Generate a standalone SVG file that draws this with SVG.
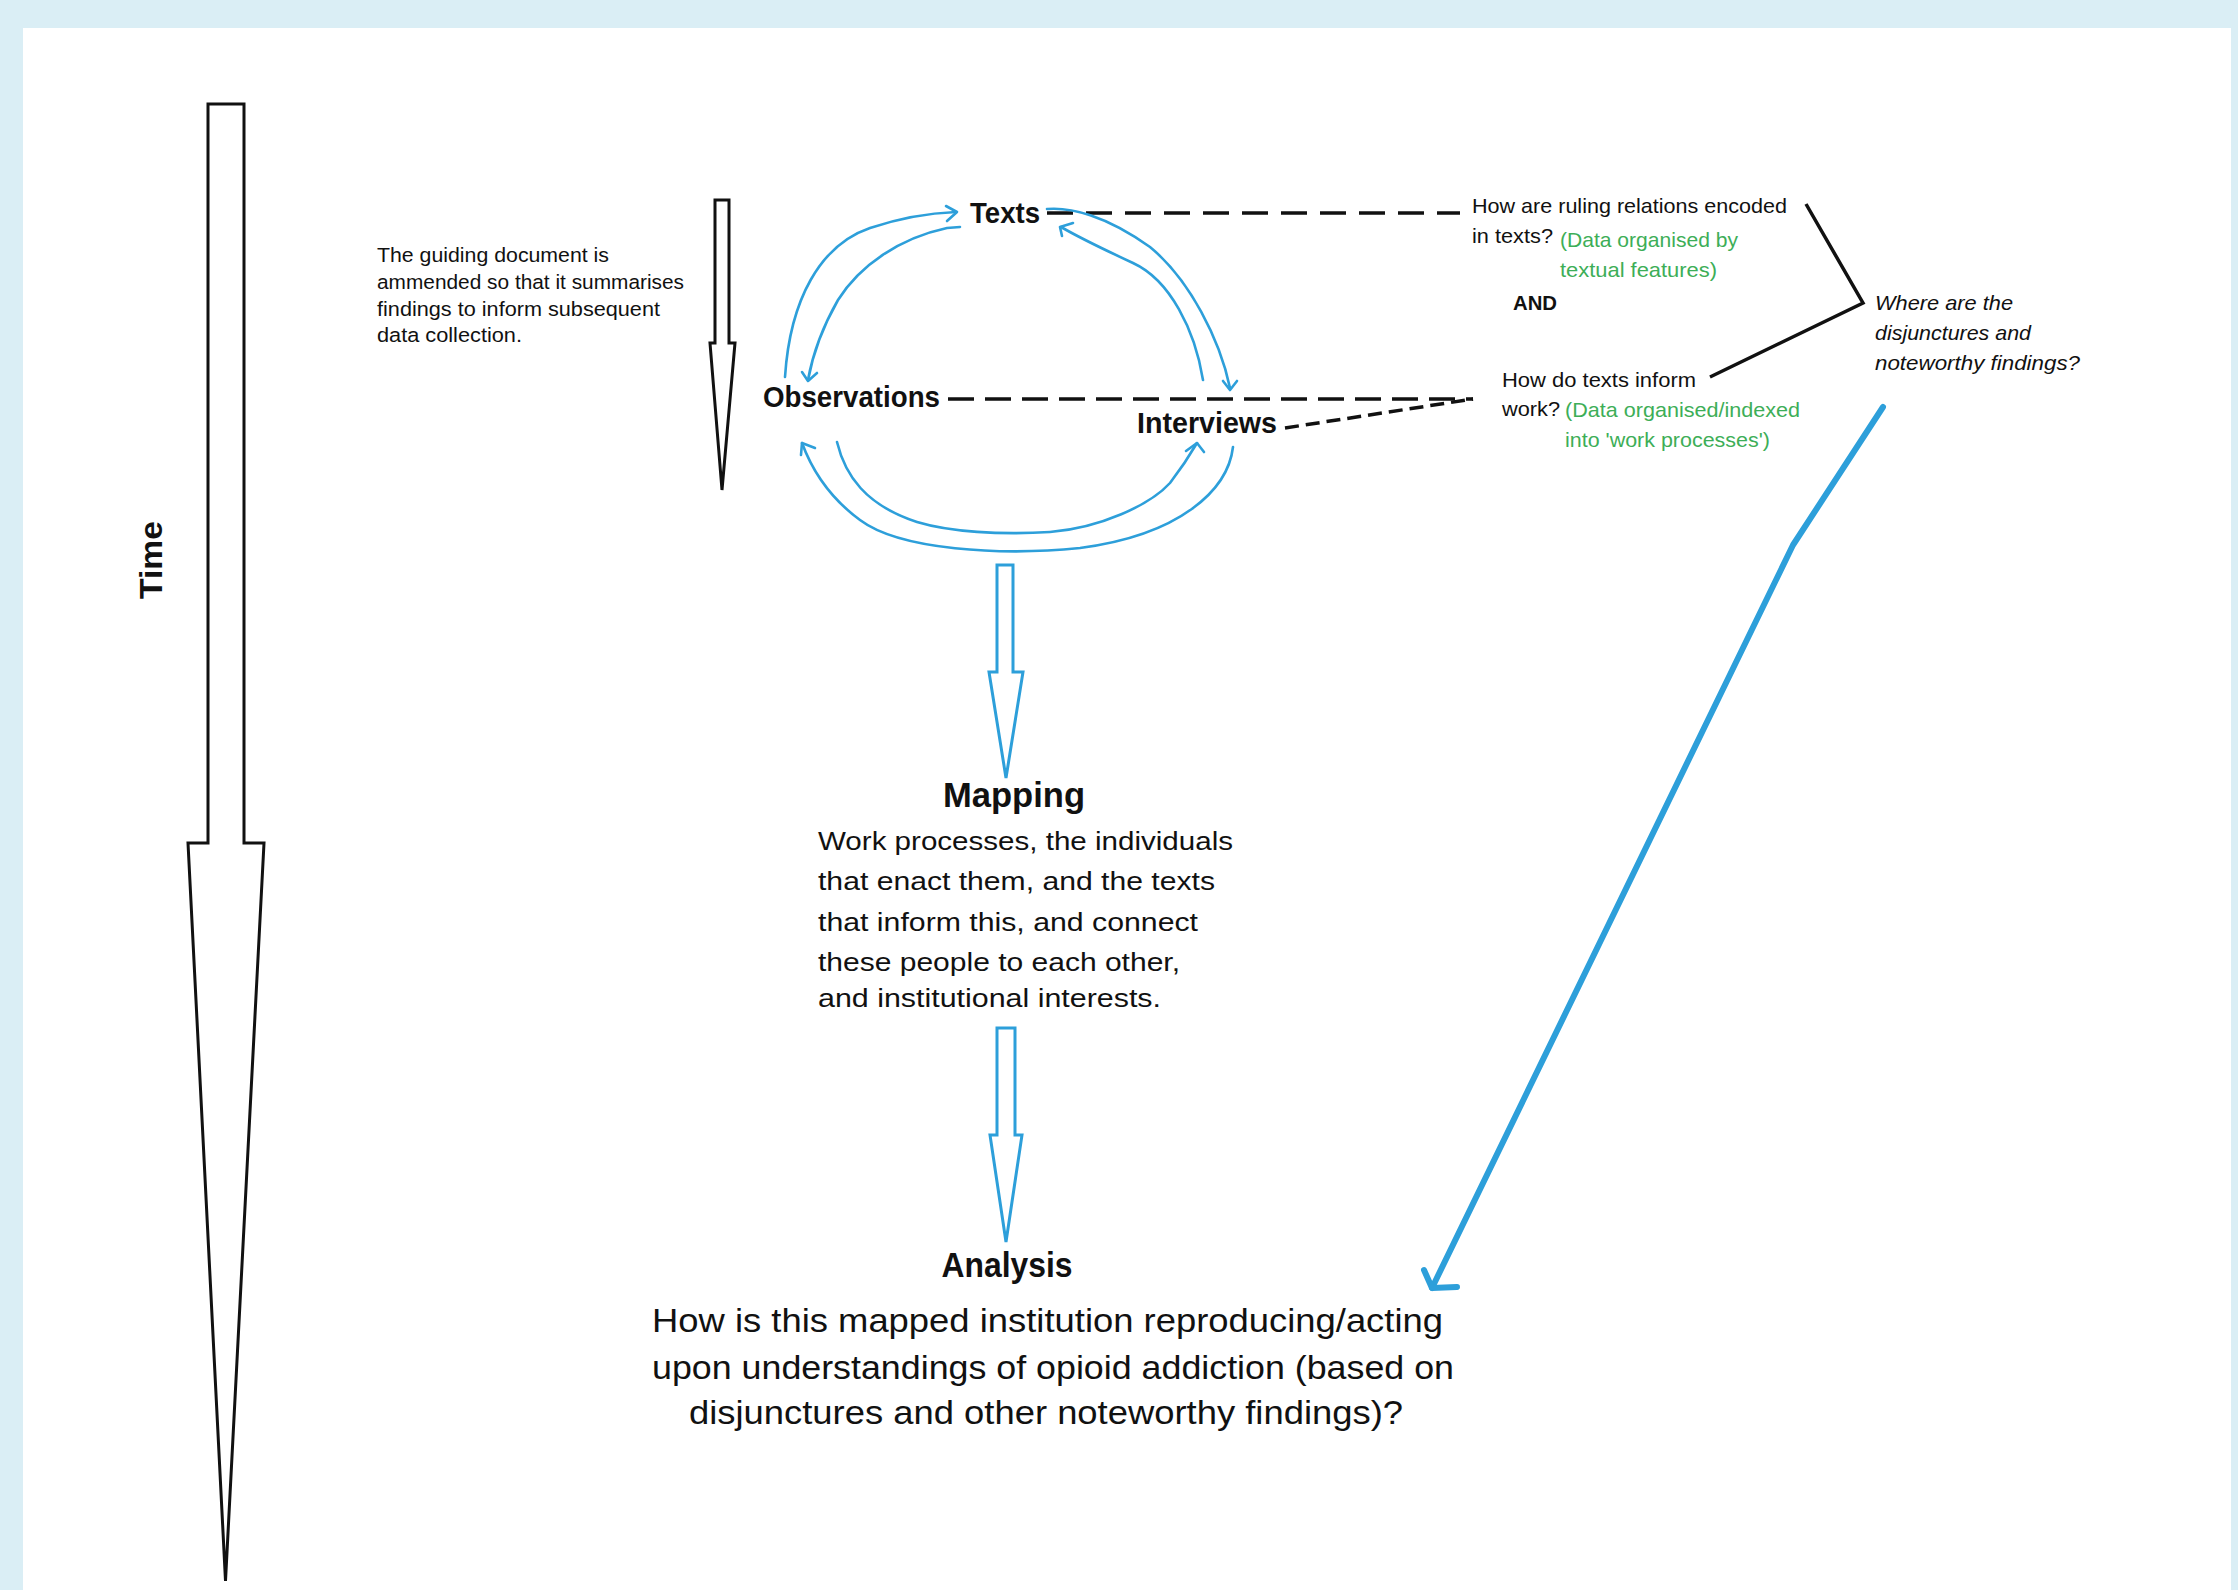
<svg xmlns="http://www.w3.org/2000/svg" width="2238" height="1590" viewBox="0 0 2238 1590">
<defs>
<style>
.t{font-family:"Liberation Sans",Arial,sans-serif;fill:#111}
.b{font-weight:bold}
.g{fill:#3DAE57}
.i{font-style:italic}
.blue{fill:none;stroke:#2D9FDA;stroke-width:2.6;stroke-linecap:round;stroke-linejoin:round}
.dash{fill:none;stroke:#111;stroke-width:3.5}
.blk{fill:#fff;stroke:#111;stroke-width:3;stroke-linejoin:miter}
.bblk{fill:#fff;stroke:#2D9FDA;stroke-width:3;stroke-linejoin:miter}
</style>
</defs>
<rect x="0" y="0" width="2238" height="1590" fill="#DAEEF5"/>
<rect x="23" y="28" width="2208" height="1562" fill="#fff"/>

<g id="time">
<polygon class="blk" points="208,104 244,104 244,843 264,843 225.5,1581 188,843 208,843"/>
<text class="t b" font-size="31" text-anchor="middle" textLength="78" lengthAdjust="spacingAndGlyphs" transform="translate(162,560) rotate(-90)">Time</text>
</g>

<g id="guiding">
<text class="t" font-size="20.5" x="377" y="262" textLength="232" lengthAdjust="spacingAndGlyphs">The guiding document is</text>
<text class="t" font-size="20.5" x="377" y="289" textLength="307" lengthAdjust="spacingAndGlyphs">ammended so that it summarises</text>
<text class="t" font-size="20.5" x="377" y="316" textLength="283" lengthAdjust="spacingAndGlyphs">findings to inform subsequent</text>
<text class="t" font-size="20.5" x="377" y="342" textLength="145" lengthAdjust="spacingAndGlyphs">data collection.</text>
<polygon class="blk" points="715,200 729,200 729,343 735,343 722,490 710,343 715,343"/>
</g>

<g id="texts"><text class="t b" font-size="29" x="970" y="223" textLength="70" lengthAdjust="spacingAndGlyphs">Texts</text></g>
<g id="observations"><text class="t b" font-size="29" x="763" y="407" textLength="177" lengthAdjust="spacingAndGlyphs">Observations</text></g>
<g id="interviews"><text class="t b" font-size="29" x="1137" y="433" textLength="140" lengthAdjust="spacingAndGlyphs">Interviews</text></g>

<g id="q-texts">
<text class="t" font-size="21" x="1472" y="213" textLength="315" lengthAdjust="spacingAndGlyphs">How are ruling relations encoded</text>
<text class="t" font-size="21" x="1472" y="243" textLength="81" lengthAdjust="spacingAndGlyphs">in texts?</text>
<text class="t g" font-size="21" x="1560" y="247" textLength="178" lengthAdjust="spacingAndGlyphs">(Data organised by</text>
<text class="t g" font-size="21" x="1560" y="277" textLength="157" lengthAdjust="spacingAndGlyphs">textual features)</text>
</g>
<g id="and"><text class="t b" font-size="20" x="1513" y="310" textLength="44" lengthAdjust="spacingAndGlyphs">AND</text></g>
<g id="q-work">
<text class="t" font-size="21" x="1502" y="387" textLength="194" lengthAdjust="spacingAndGlyphs">How do texts inform</text>
<text class="t" font-size="21" x="1502" y="416" textLength="58" lengthAdjust="spacingAndGlyphs">work?</text>
<text class="t g" font-size="21" x="1565" y="417" textLength="235" lengthAdjust="spacingAndGlyphs">(Data organised/indexed</text>
<text class="t g" font-size="21" x="1565" y="447" textLength="205" lengthAdjust="spacingAndGlyphs">into 'work processes')</text>
</g>
<g id="disjunctures">
<text class="t i" font-size="21" x="1875" y="310" textLength="138" lengthAdjust="spacingAndGlyphs">Where are the</text>
<text class="t i" font-size="21" x="1875" y="340" textLength="156" lengthAdjust="spacingAndGlyphs">disjunctures and</text>
<text class="t i" font-size="21" x="1875" y="370" textLength="205" lengthAdjust="spacingAndGlyphs">noteworthy findings?</text>
</g>

<g id="mapping">
<text class="t b" font-size="35" x="1014" y="807" text-anchor="middle" textLength="142" lengthAdjust="spacingAndGlyphs">Mapping</text>
<text class="t" font-size="25.5" x="818" y="850" textLength="415" lengthAdjust="spacingAndGlyphs">Work processes, the individuals</text>
<text class="t" font-size="25.5" x="818" y="890" textLength="397" lengthAdjust="spacingAndGlyphs">that enact them, and the texts</text>
<text class="t" font-size="25.5" x="818" y="931" textLength="380" lengthAdjust="spacingAndGlyphs">that inform this, and connect</text>
<text class="t" font-size="25.5" x="818" y="971" textLength="362" lengthAdjust="spacingAndGlyphs">these people to each other,</text>
<text class="t" font-size="25.5" x="818" y="1007" textLength="343" lengthAdjust="spacingAndGlyphs">and institutional interests.</text>
</g>

<g id="analysis">
<text class="t b" font-size="35" x="1007" y="1277" text-anchor="middle" textLength="131" lengthAdjust="spacingAndGlyphs">Analysis</text>
<text class="t" font-size="34" x="652" y="1332" textLength="791" lengthAdjust="spacingAndGlyphs">How is this mapped institution reproducing/acting</text>
<text class="t" font-size="34" x="652" y="1379" textLength="802" lengthAdjust="spacingAndGlyphs">upon understandings of opioid addiction (based on</text>
<text class="t" font-size="34" x="689" y="1424" textLength="714" lengthAdjust="spacingAndGlyphs">disjunctures and other noteworthy findings)?</text>
</g>

<g id="connectors">
<path class="dash" d="M1047 213 H1460" stroke-dasharray="26 13"/>
<path class="dash" d="M948 399 H1473" stroke-dasharray="26 11"/>
<path class="dash" d="M1285 428 L1473 399" stroke-dasharray="14 7"/>
<polyline fill="none" stroke="#111" stroke-width="3.5" points="1806,204 1863,303 1710,377"/>

<path class="blue" d="M785 377 C790 300 820 245 870 228 C900 218 930 213 956 212"/>
<path class="blue" d="M946 206 L957 212 L947 221"/>
<path class="blue" d="M960 227 L947 228 C900 238 860 265 838 300 C822 328 812 358 808 380"/>
<path class="blue" d="M802 372 L808 381 L817 373"/>
<path class="blue" d="M1047 209 C1070 207 1105 215 1150 247 C1190 280 1220 340 1230 388"/>
<path class="blue" d="M1223 381 L1230 390 L1237 381"/>
<path class="blue" d="M1203 380 C1195 330 1170 280 1133 263 C1105 250 1080 238 1061 227"/>
<path class="blue" d="M1062 236 L1060 227 L1073 223"/>
<path class="blue" d="M1233 447 C1228 490 1180 535 1080 548 C1000 556 900 550 860 520 C830 498 812 470 802 443"/>
<path class="blue" d="M801 455 L802 443 L815 448"/>
<path class="blue" d="M837 442 C845 475 865 505 917 522 C950 532 1000 535 1050 532 C1100 528 1150 505 1170 483 C1180 470 1190 455 1197 443"/>
<path class="blue" d="M1186 451 L1197 443 L1204 452"/>

<polygon class="bblk" points="997,565 1013,565 1013,672 1023,672 1006,778 989,672 997,672"/>
<polygon class="bblk" points="997,1028 1015,1028 1015,1135 1022,1135 1006,1242 990,1135 997,1135"/>

<path fill="none" stroke="#2D9FDA" stroke-width="6" stroke-linecap="round" stroke-linejoin="round" d="M1883 407 L1793 545 L1432 1288"/>
<path fill="none" stroke="#2D9FDA" stroke-width="6" stroke-linecap="round" stroke-linejoin="round" d="M1424 1270 L1432 1288 L1457 1287"/>
</g>
</svg>
